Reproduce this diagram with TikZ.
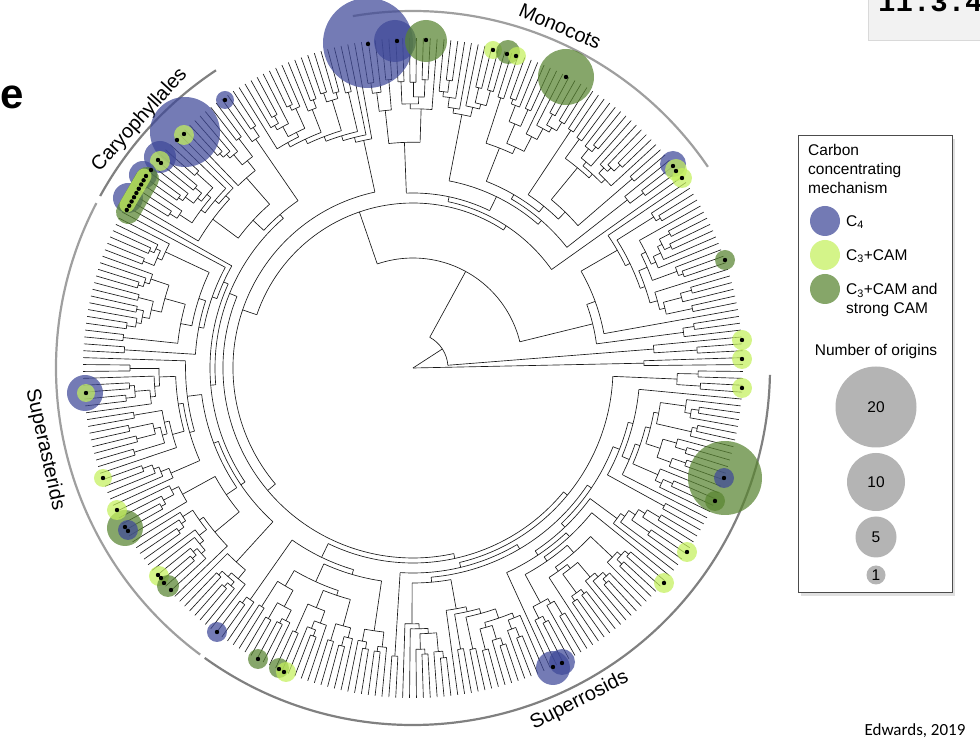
\documentclass[tikz,border=0pt]{standalone}
\usepackage{fontspec}
\setmainfont{Liberation Sans}
\newfontfamily\calibrifont{Carlito}
\newfontfamily\boxfont{Liberation Mono}
\usetikzlibrary{calc}

\definecolor{cfour}{RGB}{62,72,152}
\definecolor{cthreecam}{RGB}{196,240,92}
\definecolor{strongcam}{RGB}{88,132,48}
\definecolor{origingray}{RGB}{180,180,180}
\definecolor{boxgray}{RGB}{242,242,242}

\newcommand\tipr{330}
\newcommand\firsttip{0.6}
\newcommand\tipstep{1.2}

% subtree over tips #1..#2 hanging from radius #3, its angle goes to \resang
\newcommand\subtree[3]{%
  \begingroup
  \ifnum#1=#2\relax
    \pgfmathsetmacro\brang{\firsttip+(#1-1)*\tipstep}%
    \draw[branch] (\brang:#3) -- (\brang:\tipr);
    \xdef\resang{\brang}%
  \else
    \pgfmathsetmacro\noder{max(302-15*(#2-#1)^0.6*(0.7+0.6*rnd),#3+5)}%
    \pgfmathsetmacro\noder{min(\noder,#3+0.7*(\tipr-#3))}%
    \pgfmathtruncatemacro\splitk{min(#1+floor(rnd^1.4*(#2-#1)),#2-1)}%
    \pgfmathtruncatemacro\splitl{\splitk+1}%
    \edef\subnext{\noexpand\subtree{#1}{\splitk}{\noder}}\subnext
    \let\anga\resang
    \edef\subnext{\noexpand\subtree{\splitl}{#2}{\noder}}\subnext
    \let\angb\resang
    \pgfmathsetmacro\brang{(\anga+\angb)/2}%
    \draw[branch] (\anga:\noder) arc[start angle=\anga,end angle=\angb,radius=\noder];
    \draw[branch] (\brang:#3) -- (\brang:\noder);
    \xdef\resang{\brang}%
  \fi
  \endgroup}

% join two clades at radius #3, stem down to #4, angle into #5
\newcommand\joinclades[5]{%
  \pgfmathsetmacro#5{(#1+#2)/2}%
  \draw[branch] (#1:#3) arc[start angle=#1,end angle=#2,radius=#3];
  \draw[branch] (#5:#4) -- (#5:#3);}

\begin{document}
\begin{tikzpicture}[x=1pt,y=1pt,
  branch/.style={line width=0.65pt,black!90},
  bubble/.style={fill opacity=0.72},
  cfourbub/.style={bubble,fill=cfour},
  cambub/.style={bubble,fill=cthreecam},
  strongbub/.style={bubble,fill=strongcam},
  cladearc/.style={line width=2.2pt},
  cladelabel/.style={font=\fontsize{20}{20}\selectfont,inner sep=0pt},
  legendtext/.style={font=\fontsize{15.5}{19}\selectfont,inner sep=0pt,align=left},
  originbub/.style={circle,fill=origingray,inner sep=0pt,font=\fontsize{15.5}{15.5}\selectfont},
  keybub/.style={circle,inner sep=0pt,minimum size=30}]
\useasboundingbox (-413,-378) rectangle (567,368);
\pgfmathsetseed{2019}

% the tree, centre at the root
\subtree{1}{2}{0}\let\aearly\resang
\subtree{3}{5}{35}\let\agrade\resang
\subtree{6}{29}{110}\let\amag\resang
\subtree{30}{83}{165}\let\amono\resang
\subtree{84}{102}{180}\let\abasal\resang
\subtree{103}{125}{198}\let\acary\resang
\subtree{126}{194}{198}\let\aaster\resang
\subtree{195}{300}{190}\let\arosid\resang
\joinclades{\acary}{\aaster}{198}{190}\asuperast
\joinclades{\asuperast}{\arosid}{190}{180}\acore
\joinclades{\abasal}{\acore}{180}{165}\aeudic
\joinclades{\amono}{\aeudic}{165}{110}\amesang
\joinclades{\amag}{\amesang}{110}{35}\acrown
\joinclades{\agrade}{\acrown}{35}{0}\aall

% clade arcs and names
\draw[cladearc,gray!75] (34.3:357) arc[start angle=34.3,end angle=99.7,radius=357];
\draw[cladearc,gray!100!black] (123.5:357) arc[start angle=123.5,end angle=151.2,radius=357];
\draw[cladearc,gray!75] (152.5:357) arc[start angle=152.5,end angle=233.4,radius=357];
\draw[cladearc,gray!100!black] (234.3:357) arc[start angle=234.3,end angle=358.9,radius=357];
\node[cladelabel,rotate=-23.3] (monolbl) at (66.7:372) {Monocots};
\node[cladelabel,rotate=47.8] (carylbl) at (137.8:369) {Caryophyllales};
\node[cladelabel,rotate=-77.4] (asterlbl) at (192.5:377) {Superasterids};
\node[cladelabel,rotate=26.6] (rosidlbl) at (296.6:372) {Superrosids};

\begin{scope}[shift={(-413,368)},yscale=-1]
% origins on the tree
\fill[cfourbub] (368,43) circle[radius=45];
\fill[cfourbub] (395,41) circle[radius=21];
\fill[strongbub] (426,41) circle[radius=21];
\fill[cambub] (493,50) circle[radius=9];
\fill[strongbub] (508,52) circle[radius=12];
\fill[cambub] (517,56) circle[radius=9];
\fill[strongbub] (566,77) circle[radius=28];
\fill[cfourbub] (673,164) circle[radius=13];
\fill[cambub] (676,170) circle[radius=11];
\fill[cambub] (682,178) circle[radius=10];
\fill[strongbub] (725,260) circle[radius=10];
\foreach \y in {340,359,388}
  \fill[cambub] (742,\y) circle[radius=10];
\fill[strongbub] (725,478) circle[radius=37];
\fill[cfourbub] (724,478) circle[radius=10];
\fill[strongbub] (715,501) circle[radius=10];
\fill[cambub] (687,552) circle[radius=10];
\fill[cambub] (664,583) circle[radius=10];
\fill[cfourbub] (553,668) circle[radius=17];
\fill[cfourbub] (562,662) circle[radius=13];
\fill[strongbub] (279,668) circle[radius=10];
\fill[cambub] (286,672) circle[radius=10];
\fill[strongbub] (258,659) circle[radius=10];
\fill[cfourbub] (217,632) circle[radius=10];
\fill[cambub] (159,576) circle[radius=10];
\fill[strongbub] (168,586) circle[radius=11];
\fill[strongbub] (125,528) circle[radius=18];
\fill[cfourbub] (128,530) circle[radius=10];
\fill[cambub] (117,510) circle[radius=10];
\fill[cambub] (103,478) circle[radius=9];
\fill[cfourbub] (85,393) circle[radius=18];
\fill[cambub] (86,393) circle[radius=9];
\fill[cfourbub] (225,100) circle[radius=9];
\fill[cfourbub] (185,132) circle[radius=35];
\fill[cambub] (184,135) circle[radius=10];
\fill[cfourbub] (160,157) circle[radius=16];
\fill[cambub] (160,161) circle[radius=10];
\fill[cfourbub] (143,175) circle[radius=14];
\fill[cfourbub] (128,198) circle[radius=15];
\draw[strongcam,draw opacity=0.72,line width=24,line cap=round] (147,179) -- (128,212);
\draw[cthreecam,draw opacity=0.72,line width=15,line cap=round] (144,176) -- (127,205);
\foreach \x/\y in {368/44,397/41,426/40,493/50,507/54,516/56,566/77,
    673/166,676/171,682/178,725/260,742/340,742/359,742/388,
    724/478,715/501,687/552,664/583,553/667,562/663,284/672,279/669,
    258/659,217/632,158/575,161/578,164/583,171/590,125/527,128/531,
    117/510,103/478,86/393,225/100,184/134,177/140,158/160,161/163,151/170}
  \fill (\x,\y) circle[radius=2.2];
\foreach \i in {0,...,8}
  \fill ($(146,176)+\i*(-2.4,4.25)$) circle[radius=2.2];

% legend
\fill[black!12] (801,139) rectangle (955,596);
\draw[black!70,fill=white,line width=1pt] (798,136) rectangle (952,593);
\node[legendtext,anchor=north west] (keytitle) at (808,144) {Carbon\\concentrating\\mechanism};
\node[keybub,cfourbub] (keyfour) at (825,221) {};
\node[keybub,cambub] (keycam) at (825,255) {};
\node[keybub,strongbub] (keystrong) at (825,289) {};
\node[legendtext,anchor=west] (keyfourtxt) at (846,222) {C\textsubscript{4}};
\node[legendtext,anchor=west] (keycamtxt) at (846,256) {C\textsubscript{3}+CAM};
\node[legendtext,anchor=west] (keystrongtxt) at (846,300) {C\textsubscript{3}+CAM and\\strong CAM};
\node[legendtext] (origintitle) at (876,351) {Number of origins};
\node[originbub,minimum size=81] (origtwenty) at (876,407) {20};
\node[originbub,minimum size=58] (origten) at (876,482) {10};
\node[originbub,minimum size=41] (origfive) at (876,537) {5};
\node[originbub,minimum size=19] (origone) at (876,575) {1};

% corner texts
\fill[boxgray] (868,-10) rectangle (990,40);
\draw[black!15] (868,-10) -- (868,40) -- (990,40);
\node[anchor=base west,inner sep=0pt,font=\boxfont\bfseries\fontsize{29}{29}\selectfont] (secnum) at (878,12) {11.3.4};
\node[inner sep=0pt,font=\bfseries\fontsize{42}{42}\selectfont] (panel) at (12,97) {e};
\node[inner sep=0pt,font=\calibrifont\fontsize{17}{17}\selectfont] (credit) at (915,731) {Edwards, 2019};
\end{scope}
\end{tikzpicture}
\end{document}
